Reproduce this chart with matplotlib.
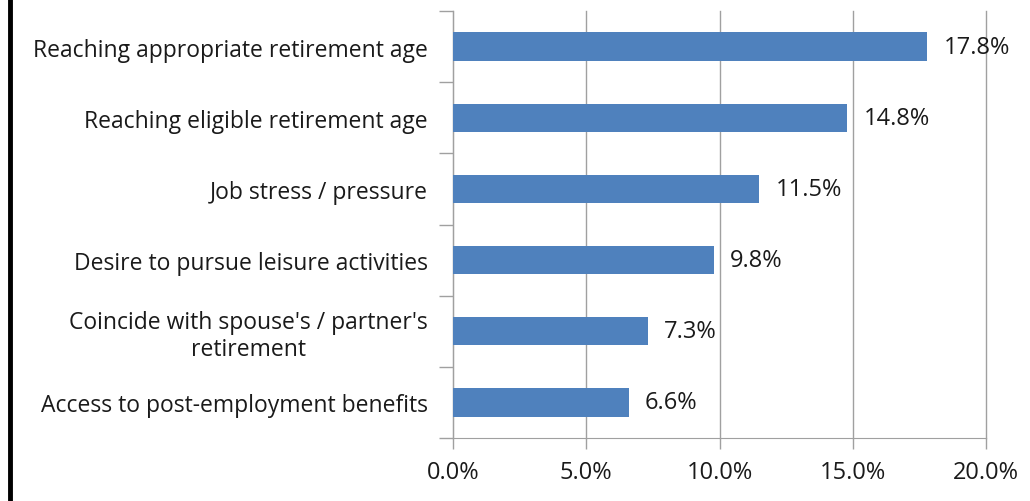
import matplotlib.pyplot as plt
from matplotlib.lines import Line2D

categories = [
    "Reaching appropriate retirement age",
    "Reaching eligible retirement age",
    "Job stress / pressure",
    "Desire to pursue leisure activities",
    "Coincide with spouse's / partner's\nretirement",
    "Access to post-employment benefits",
]
values = [17.8, 14.8, 11.5, 9.8, 7.3, 6.6]
xticks = [0, 5, 10, 15, 20]

plt.rcParams["font.family"] = ["Open Sans", "DejaVu Sans"]
FS = 17

fig = plt.figure(figsize=(10.3, 5.02), dpi=100)
ax = fig.add_axes([453 / 1030, 1 - 439 / 502, 533 / 1030, 427 / 502])

n = len(categories)
ypos = list(range(n))
ax.barh(ypos, values, height=0.4, color="#4F81BD", zorder=3)

for y, v in zip(ypos, values):
    ax.text(v + 0.6, y, f"{v:.1f}%", va="center", ha="left", fontsize=FS, color="#1a1a1a", zorder=4)

ax.set_xlim(0, 20)
ax.set_ylim(n - 0.5, -0.5)
ax.set_xticks(xticks)
ax.set_xticklabels([f"{t:.1f}%" for t in xticks], fontsize=FS, color="#1a1a1a")
ax.set_yticks(ypos)
ax.set_yticklabels(categories, fontsize=16.5, color="#1a1a1a", linespacing=1.15,
                   multialignment="center")
ax.tick_params(axis="y", length=0, pad=18)
ax.tick_params(axis="x", length=8, color="#a0a0a0", width=1, pad=8)

# category boundary ticks on the y axis
ax.set_yticks([i - 0.5 for i in range(n + 1)], minor=True)
ax.tick_params(axis="y", which="minor", length=10, color="#a0a0a0", width=1)

ax.grid(axis="x", color="#a0a0a0", linewidth=1, zorder=0)
for gl in ax.get_xgridlines():
    gl.set_clip_on(False)
for s in ["top", "right"]:
    ax.spines[s].set_visible(False)
ax.spines["left"].set_color("#a0a0a0")
ax.spines["bottom"].set_color("#a0a0a0")

# black border line on the left edge of the image
fig.add_artist(Line2D([10 / 1030, 10 / 1030], [0, 1], color="black", linewidth=3.5,
                      transform=fig.transFigure))

fig.savefig("out.png", dpi=100)
